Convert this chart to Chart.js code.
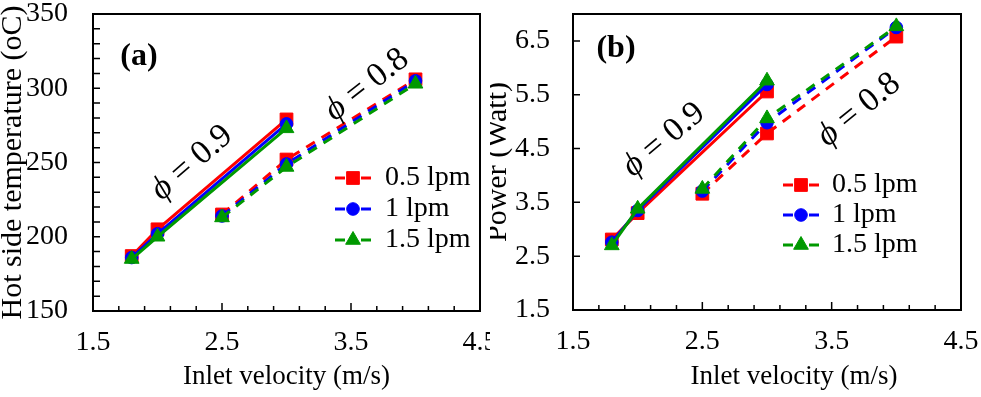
<!DOCTYPE html>
<html>
<head>
<meta charset="utf-8">
<script src="https://cdn.jsdelivr.net/npm/chart.js@4.4.0/dist/chart.umd.min.js"></script>
<style>
  html, body { margin: 0; padding: 0; background: #fff; }
  #wrap { position: relative; width: 981px; height: 397px; overflow: hidden; }
  .panel { position: absolute; top: 0; height: 397px; }
  #panelA { left: 0; width: 490px; }
  #panelB { left: 490px; width: 491px; }
</style>
</head>
<body>
<div id="wrap">
  <div class="panel" id="panelA"><canvas id="chartA"></canvas></div>
  <div class="panel" id="panelB"><canvas id="chartB"></canvas></div>
</div>
<script>
// flow rates (legend) and inlet velocities for the two equivalence ratios
const flows = ['0.5 lpm', '1 lpm', '1.5 lpm'];
const velPhi09 = [1.8, 2.0, 3.0];
const velPhi08 = [2.5, 3.0, 4.0];

// (a) hot side temperature, oC
const tempPhi09Lpm05 = [187, 205, 279];
const tempPhi09Lpm1 = [186, 202, 276];
const tempPhi09Lpm15 = [185, 200, 273];
const tempPhi08Lpm05 = [215, 252, 306];
const tempPhi08Lpm1 = [214, 249, 305];
const tempPhi08Lpm15 = [213, 247, 303];

// (b) power, Watt
const powerPhi09Lpm05 = [2.81, 3.30, 5.56];
const powerPhi09Lpm1 = [2.76, 3.35, 5.69];
const powerPhi09Lpm15 = [2.70, 3.38, 5.76];
const powerPhi08Lpm05 = [3.66, 4.78, 6.58];
const powerPhi08Lpm1 = [3.71, 4.98, 6.75];
const powerPhi08Lpm15 = [3.75, 5.06, 6.77];

// tick labels
const xTicks = [1.5, 2.5, 3.5, 4.5];
const xMinorTicks = [1.7, 1.9, 2.1, 2.3, 2.7, 2.9, 3.1, 3.3, 3.7, 3.9, 4.1, 4.3];
const tempTicks = [150, 200, 250, 300, 350];
const tempMinorTicks = [160, 170, 180, 190, 210, 220, 230, 240, 260, 270, 280, 290, 310, 320, 330, 340];
const powerTicks = [1.5, 2.5, 3.5, 4.5, 5.5, 6.5];

const colors = ['#ff0000', '#0000ff', '#009900'];
const markers = ['rect', 'circle', 'triangle'];
const markerSize = [9, 6.3, 8.5];
const serif = "'Liberation Serif', 'Times New Roman', serif";

function makeDatasets(s09, s08) {
    const sets = [];
    for (let i = 0; i < 3; i++) {
        sets.push({
            label: flows[i] + ' (0.9)',
            data: velPhi09.map((v, k) => ({ x: v, y: s09[i][k] })),
            borderColor: colors[i],
            backgroundColor: colors[i],
            borderWidth: 3,
            pointStyle: markers[i],
            pointRadius: markerSize[i],
            pointBorderWidth: 1,
            order: 2 - i
        });
        sets.push({
            label: flows[i] + ' (0.8)',
            data: velPhi08.map((v, k) => ({ x: v, y: s08[i][k] })),
            borderColor: colors[i],
            backgroundColor: colors[i],
            borderWidth: 3,
            borderDash: [10, 8],
            pointStyle: markers[i],
            pointRadius: markerSize[i],
            pointBorderWidth: 1,
            order: 2 - i
        });
    }
    return sets;
}

// box, inward ticks, legend and text notes
const extras = {
    id: 'extras',
    afterDraw(chart) {
        const ctx = chart.ctx;
        const a = chart.chartArea;
        const o = chart.options.plugins.extras;
        const xs = chart.scales.x, ys = chart.scales.y;
        ctx.save();
        ctx.strokeStyle = '#000';
        ctx.lineWidth = 1.5;
        ctx.beginPath();
        xTicks.forEach(v => { const p = xs.getPixelForValue(v); ctx.moveTo(p, a.bottom); ctx.lineTo(p, a.bottom - 8); });
        xMinorTicks.forEach(v => { const p = xs.getPixelForValue(v); ctx.moveTo(p, a.bottom); ctx.lineTo(p, a.bottom - 5); });
        o.yTicks.forEach(v => { const p = ys.getPixelForValue(v); ctx.moveTo(a.left, p); ctx.lineTo(a.left + 7, p); });
        ctx.stroke();
        ctx.lineWidth = 2;
        ctx.strokeRect(a.left, a.top, a.right - a.left, a.bottom - a.top);

        // legend
        ctx.font = '28px ' + serif;
        ctx.textAlign = 'left';
        ctx.textBaseline = 'middle';
        for (let i = 0; i < 3; i++) {
            const y = o.legend.y + i * o.legend.dy;
            const x = o.legend.x;
            ctx.strokeStyle = colors[i];
            ctx.fillStyle = colors[i];
            ctx.lineWidth = 3;
            ctx.beginPath();
            ctx.moveTo(x, y); ctx.lineTo(x + 10, y);
            ctx.moveTo(x + 26, y); ctx.lineTo(x + 36, y);
            ctx.stroke();
            ctx.lineWidth = 1;
            Chart.helpers.drawPoint(ctx, { pointStyle: markers[i], radius: markerSize[i], rotation: 0, borderWidth: 1 }, x + 18, y);
            ctx.fillStyle = '#000';
            ctx.fillText(flows[i], o.legend.textX, y);
        }

        // panel letter
        ctx.fillStyle = '#000';
        ctx.font = 'bold 32px ' + serif;
        ctx.textAlign = 'center';
        ctx.fillText(o.letter.text, o.letter.x, o.letter.y);

        // phi labels
        o.phis.forEach(p => {
            ctx.save();
            ctx.translate(p.x, p.y);
            ctx.rotate(p.angle * Math.PI / 180);
            ctx.font = 'italic 34px ' + serif;
            const w1 = ctx.measureText('ϕ').width;
            ctx.font = '34px ' + serif;
            const rest = ' = ' + p.value;
            const w2 = ctx.measureText(rest).width;
            ctx.textAlign = 'left';
            ctx.font = 'italic 34px ' + serif;
            ctx.fillText('ϕ', -(w1 + w2) / 2, 0);
            ctx.font = '34px ' + serif;
            ctx.fillText(rest, -(w1 + w2) / 2 + w1, 0);
            ctx.restore();
        });

        // free axis title
        if (o.xTitle) {
            ctx.font = '27px ' + serif;
            ctx.textAlign = 'center';
            ctx.fillText(o.xTitle.text, o.xTitle.x, o.xTitle.y);
        }
        ctx.restore();
    }
};

function makeChart(id, cfg) {
    return new Chart(document.getElementById(id), {
        type: 'line',
        data: { datasets: makeDatasets(cfg.s09, cfg.s08) },
        options: {
            responsive: true,
            maintainAspectRatio: false,
            animation: false,
            layout: { padding: { top: 14, right: cfg.padRight, left: 0, bottom: 0 } },
            plugins: {
                legend: { display: false },
                tooltip: { enabled: false },
                extras: cfg.extras
            },
            scales: {
                x: {
                    type: 'linear',
                    min: 1.5,
                    max: 4.5,
                    afterBuildTicks: s => { s.ticks = xTicks.map(v => ({ value: v })); },
                    afterFit: s => { s.height = cfg.xHeight; s.paddingLeft = 0; s.paddingRight = 0; },
                    grid: { display: false, drawTicks: false },
                    border: { display: false },
                    ticks: {
                        color: '#000',
                        padding: 15,
                        maxRotation: 0,
                        autoSkip: false,
                        font: { family: serif, size: 28 },
                        callback: v => v.toFixed(1)
                    },
                    title: {
                        display: cfg.xTitleShown,
                        text: 'Inlet velocity (m/s)',
                        color: '#000',
                        font: { family: serif, size: 27 },
                        padding: { top: 0, bottom: 4 }
                    }
                },
                y: {
                    type: 'linear',
                    min: cfg.yMin,
                    max: cfg.yMax,
                    afterBuildTicks: s => { s.ticks = cfg.yTicks.map(v => ({ value: v })); },
                    afterFit: s => { s.width = cfg.yWidth; s.paddingTop = 0; s.paddingBottom = 0; },
                    grid: { display: false, drawTicks: false },
                    border: { display: false },
                    ticks: {
                        color: '#000',
                        padding: cfg.yPad,
                        autoSkip: false,
                        font: { family: serif, size: 28 },
                        callback: v => cfg.yFmt(v)
                    },
                    title: {
                        display: true,
                        text: cfg.yTitle,
                        color: '#000',
                        font: { family: serif, size: 30, lineHeight: cfg.yTitleLH },
                        padding: { top: 0, bottom: 0 }
                    }
                }
            }
        },
        plugins: [extras]
    });
}

makeChart('chartA', {
    s09: [tempPhi09Lpm05, tempPhi09Lpm1, tempPhi09Lpm15],
    s08: [tempPhi08Lpm05, tempPhi08Lpm1, tempPhi08Lpm15],
    padRight: 10, xHeight: 86, yWidth: 93, yPad: 25,
    yMin: 150, yMax: 350, yTicks: tempTicks, yFmt: v => String(v),
    yTitle: 'Hot side temperature (oC)', yTitleLH: 0.87,
    xTitleShown: true,
    extras: {
        yTicks: tempTicks.concat(tempMinorTicks),
        legend: { x: 335, y: 178, dy: 31, textX: 385 },
        letter: { text: '(a)', x: 139, y: 57 },
        phis: [
            { value: '0.9', x: 192, y: 163, angle: -41 },
            { value: '0.8', x: 367, y: 85, angle: -38 }
        ]
    }
});

makeChart('chartB', {
    s09: [powerPhi09Lpm05, powerPhi09Lpm1, powerPhi09Lpm15],
    s08: [powerPhi08Lpm05, powerPhi08Lpm1, powerPhi08Lpm15],
    padRight: 20, xHeight: 87, yWidth: 83, yPad: 23,
    yMin: 1.5, yMax: 7.0, yTicks: powerTicks, yFmt: v => v.toFixed(1),
    yTitle: 'Power (Watt)', yTitleLH: 0.55,
    xTitleShown: false,
    extras: {
        yTicks: powerTicks,
        legend: { x: 293, y: 185, dy: 30, textX: 342 },
        letter: { text: '(b)', x: 126, y: 49 },
        phis: [
            { value: '0.9', x: 174, y: 140, angle: -40 },
            { value: '0.8', x: 369, y: 110, angle: -39 }
        ],
        xTitle: { text: 'Inlet velocity (m/s)', x: 304, y: 377 }
    }
});
</script>
</body>
</html>
